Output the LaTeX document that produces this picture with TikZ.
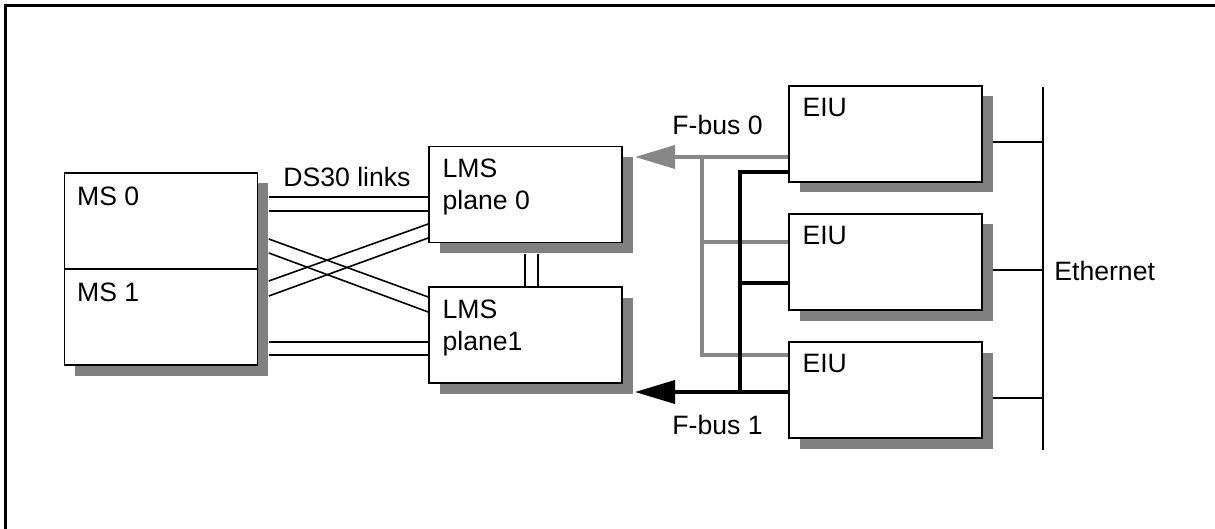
\documentclass[tikz,border=0pt]{standalone}
\usepackage{fontspec}
\setmainfont{Liberation Sans}
\usetikzlibrary{arrows.meta, positioning, calc, shadows}
\definecolor{ShadowGray}{gray}{0.5}
\definecolor{BusGray}{gray}{0.53}

\begin{document}
\begin{tikzpicture}[
    x=0.5pt, y=-0.5pt,
    font=\fontsize{13.3}{16}\selectfont,
    unit/.style={draw, fill=white, line width=0.8pt, inner sep=0,
        minimum width=96.5pt, minimum height=48pt,
        drop shadow={shadow xshift=5.25pt, shadow yshift=-5.25pt, fill=ShadowGray, opacity=1}},
    txt/.style={anchor=north west, inner sep=0, align=left},
    lbl/.style={anchor=west, inner sep=0},
    link/.style={line width=0.8pt},
    bus0/.style={BusGray, line width=1.8pt},
    bus1/.style={black, line width=1.8pt},
    tip/.style={-{Triangle[length=20pt, width=11.5pt]}},
]
\useasboundingbox (0,0) rectangle (1215,529);

% ===== marco =====
\draw[line width=1.5pt] (5.5,529) -- (5.5,5.5) -- (1215,5.5);

% ===== MS =====
\node[unit] (ms0) at (161,221) {};
\node[unit] (ms1) at (161,317) {};
\node[txt] (ms0t) at ($(ms0.north west)+(6.5pt,-7pt)$) {MS 0};
\node[txt] (ms1t) at ($(ms1.north west)+(6.5pt,-7pt)$) {MS 1};

% ===== LMS =====
\node[unit] (lms0) at (525.5,194.5) {};
\node[unit] (lms1) at (525.5,335) {};
\node[txt] (lms0t) at ($(lms0.north west)+(7pt,-6.5pt)$) {LMS\\plane 0};
\node[txt] (lms1t) at ($(lms1.north west)+(7pt,-6.5pt)$) {LMS\\plane1};

% ===== EIU =====
\node[unit] (eiu1) at (885.5,134) {};
\node[unit] (eiu2) at (885.5,262) {};
\node[unit] (eiu3) at (885.5,390) {};
\foreach \n in {eiu1,eiu2,eiu3}
    \node[txt] (\n t) at ($(\n.north west)+(7pt,-6.5pt)$) {EIU};

% ===== DS30 links =====
\node[lbl] (ds30) at (283,177) {DS30 links};
\coordinate (msr) at ([xshift=5.25pt]ms0.east);
\foreach \a/\b in {197/197, 211/211, 239/297, 253/312, 281/224, 296/238, 342/342, 355/355}
    \draw[link] (msr |- 0,\a) -- (lms0.west |- 0,\b);
\coordinate (lmsb) at ([yshift=-5.25pt]lms0.south);
\foreach \x in {525,538}
    \draw[link] (lmsb -| \x,0) -- (lms1.north -| \x,0);

% ===== F-bus 0 (gris) =====
\node[lbl] (fb0) at (672,125) {F-bus 0};
\coordinate (tip0) at (635,157);
\coordinate (j0) at (702,157);
\draw[bus0, tip] (eiu1.west |- tip0) -- (tip0);
\draw[bus0] (eiu3.west |- 0,355) -| (j0);
\draw[bus0] (eiu2.west |- 0,242) -- (j0 |- 0,242);

% ===== F-bus 1 (negro) =====
\node[lbl] (fb1) at (672,425) {F-bus 1};
\coordinate (tip1) at (635,392);
\coordinate (j1) at (740,392);
\draw[bus1, tip] (eiu3.west |- tip1) -- (tip1);
\draw[bus1] (eiu1.west |- 0,172) -| (j1);
\draw[bus1] (eiu2.west |- 0,283) -- (j1 |- 0,283);

% ===== Ethernet =====
\coordinate (ethtop) at (1043,87);
\coordinate (ethbot) at (1043,450);
\draw[link] (ethtop) -- (ethbot);
\foreach \n in {eiu1,eiu2,eiu3}
    \draw[link] ([shift={(5.25pt,-4pt)}]\n.east) coordinate (\n s) -- (\n s -| ethtop);
\node[lbl] (eth) at (1054,271) {Ethernet};

\end{tikzpicture}
\end{document}
